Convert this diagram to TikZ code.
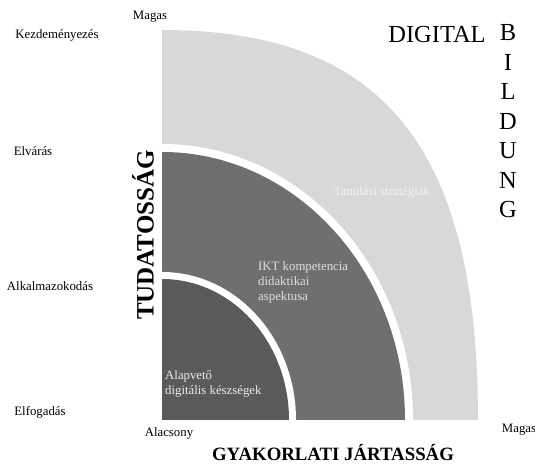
\documentclass[tikz,border=0pt]{standalone}
\usepackage{fontspec}
\setmainfont{Liberation Serif}
\definecolor{lightband}{HTML}{D8D8D8}
\definecolor{midband}{HTML}{6F6F6F}
\definecolor{innerband}{HTML}{5A5A5A}
\begin{document}
\begin{tikzpicture}[x=1pt,y=1pt,
  lbl/.style={inner sep=0pt,font=\fontsize{12.8}{15}\selectfont},
  inlbl/.style={inner sep=0pt,font=\fontsize{12.8}{15}\selectfont,align=left},
  big/.style={inner sep=0pt,font=\fontsize{24.5}{29.5}\selectfont},
  axis/.style={inner sep=0pt,font=\bfseries\fontsize{18.8}{22}\selectfont}]
\useasboundingbox (0,0) rectangle (535,465);
\coordinate (c) at (162,45);
% bands
\fill[lightband] (c) -- (478,45) .. controls (478,318) and (383,435) .. (162,435) -- cycle;
\fill[white] (c) -- ++(251,0) arc[start angle=0,end angle=90,x radius=251,y radius=276] -- cycle;
\fill[midband] (c) -- ++(243,0) arc[start angle=0,end angle=90,x radius=243,y radius=268] -- cycle;
\fill[white] (c) -- ++(134,0) arc[start angle=0,end angle=90,x radius=134,y radius=148] -- cycle;
\fill[innerband] (c) -- ++(127,0) arc[start angle=0,end angle=90,x radius=127,y radius=141] -- cycle;
% level labels
\node[lbl] (mt) at (150,448) {Magas};
\node[lbl] (k1) at (57,430) {Kezdeményezés};
\node[lbl] (k2) at (33,314) {Elvárás};
\node[lbl] (k3) at (50,179) {Alkalmazokodás};
\node[lbl] (k4) at (40,53) {Elfogadás};
\node[lbl] (al) at (169,32) {Alacsony};
\node[lbl] (mr) at (519,35) {Magas};
% axes
\node[axis] (gy) at (333,12) {GYAKORLATI JÁRTASSÁG};
\node[axis,rotate=90,font=\bfseries\fontsize{25}{28}\selectfont] (tu) at (143,230) {TUDATOSSÁG};
% digital bildung
\node[big] (dg) at (437,430) {DIGITAL};
\node[big,align=center] (bl) at (508,343.5) {B\\I\\L\\D\\U\\N\\G};
% band labels
\node[lbl,text=white!95!black] (ts) at (382,273) {Tanulási stratégiák};
\node[inlbl,anchor=west,text=white!88!black] (ikt) at (258,182.5) {IKT kompetencia\\didaktikai\\aspektusa};
\node[inlbl,anchor=west,text=white!92!black] (ap) at (165,81.5) {Alapvető\\digitális készségek};
\end{tikzpicture}
\end{document}
